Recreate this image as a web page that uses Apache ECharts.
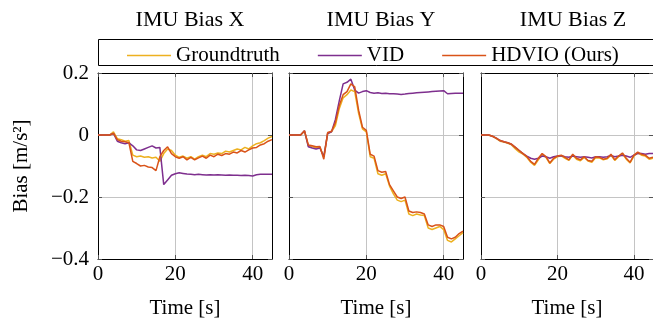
<!DOCTYPE html>
<html>
<head>
<meta charset="utf-8">
<script src="https://cdn.jsdelivr.net/npm/echarts@6/dist/echarts.min.js"></script>
<style>
  html, body { margin: 0; padding: 0; background: #fff; }
  #chart { width: 653px; height: 324px; }
</style>
</head>
<body>
<div id="chart"></div>
<script>
// time stamps [s]
const time = [0, 1, 2, 3, 4, 5, 6, 7, 8, 9, 10, 11, 12, 13, 14, 15, 16, 17, 18, 19, 20, 21, 22, 23,
  24, 25, 26, 27, 28, 29, 30, 31, 32, 33, 34, 35, 36, 37, 38, 39, 40, 41, 42, 43, 44, 45];

const titles = ['IMU Bias X', 'IMU Bias Y', 'IMU Bias Z'];
const seriesNames = ['Groundtruth', 'VID', 'HDVIO (Ours)'];

// bias X
const gtX = [0, 0, 0, 0, 0.01, -0.012, -0.015, -0.02, -0.018, -0.065,
  -0.07, -0.068, -0.072, -0.07, -0.074, -0.072, -0.085, -0.06, -0.045, -0.05,
  -0.065, -0.072, -0.068, -0.075, -0.07, -0.078, -0.07, -0.065, -0.07, -0.06,
  -0.062, -0.058, -0.06, -0.052, -0.055, -0.05, -0.045, -0.048, -0.04, -0.045,
  -0.035, -0.028, -0.025, -0.018, -0.01, -0.005];
const vidX = [0, 0, 0, 0, 0.005, -0.02, -0.025, -0.028, -0.025, -0.035,
  -0.048, -0.05, -0.045, -0.04, -0.035, -0.042, -0.04, -0.16, -0.145, -0.13,
  -0.125, -0.122, -0.124, -0.126, -0.127, -0.128, -0.127, -0.128, -0.129, -0.128,
  -0.129, -0.128, -0.129, -0.13, -0.129, -0.13, -0.13, -0.131, -0.13, -0.131,
  -0.132, -0.128, -0.127, -0.127, -0.127, -0.127];
const hdvioX = [0, 0, 0, 0, 0.005, -0.015, -0.02, -0.022, -0.025, -0.085,
  -0.092, -0.1, -0.098, -0.103, -0.105, -0.115, -0.07, -0.05, -0.038, -0.06,
  -0.07, -0.075, -0.07, -0.08, -0.072, -0.08, -0.074, -0.068, -0.075, -0.065,
  -0.07, -0.062, -0.066, -0.06, -0.062, -0.055, -0.058, -0.05, -0.055, -0.048,
  -0.042, -0.04, -0.032, -0.028, -0.02, -0.015];

// bias Y
const gtY = [0, 0, 0, 0, 0.012, -0.035, -0.038, -0.04, -0.04, -0.07,
  0.005, 0.01, 0.03, 0.085, 0.12, 0.13, 0.145, 0.14, 0.07, 0.02,
  0.01, -0.07, -0.075, -0.125, -0.13, -0.125, -0.165, -0.19, -0.21, -0.215,
  -0.21, -0.255, -0.26, -0.255, -0.258, -0.26, -0.3, -0.305, -0.3, -0.295,
  -0.305, -0.34, -0.345, -0.335, -0.325, -0.315];
const vidY = [0, 0, 0, 0, 0.014, -0.038, -0.042, -0.045, -0.042, -0.07,
  0.005, 0.01, 0.05, 0.11, 0.165, 0.17, 0.18, 0.145, 0.135, 0.14,
  0.143, 0.137, 0.135, 0.136, 0.134, 0.135, 0.133, 0.133, 0.132, 0.131,
  0.132, 0.134, 0.135, 0.136, 0.137, 0.138, 0.139, 0.14, 0.141, 0.142,
  0.143, 0.133, 0.134, 0.135, 0.135, 0.135];
const hdvioY = [0, 0, 0, 0, 0.014, -0.032, -0.035, -0.038, -0.037, -0.078,
  0.008, 0.012, 0.04, 0.095, 0.13, 0.14, 0.165, 0.155, 0.08, 0.025,
  0.015, -0.062, -0.068, -0.115, -0.12, -0.118, -0.16, -0.18, -0.2, -0.205,
  -0.2, -0.245, -0.25, -0.248, -0.25, -0.255, -0.29, -0.295, -0.29, -0.29,
  -0.295, -0.33, -0.335, -0.33, -0.318, -0.31];

// bias Z
const gtZ = [0, 0, 0, -0.004, -0.012, -0.02, -0.023, -0.027, -0.032, -0.045,
  -0.055, -0.062, -0.072, -0.088, -0.098, -0.08, -0.062, -0.072, -0.092, -0.078,
  -0.07, -0.067, -0.075, -0.082, -0.065, -0.078, -0.083, -0.072, -0.084, -0.088,
  -0.073, -0.074, -0.08, -0.077, -0.065, -0.082, -0.07, -0.06, -0.078, -0.09,
  -0.068, -0.058, -0.065, -0.068, -0.078, -0.075];
const vidZ = [0, 0, 0, -0.004, -0.01, -0.018, -0.022, -0.025, -0.03, -0.04,
  -0.05, -0.06, -0.068, -0.075, -0.078, -0.075, -0.068, -0.07, -0.075, -0.07,
  -0.068, -0.067, -0.07, -0.072, -0.068, -0.07, -0.072, -0.07, -0.072, -0.074,
  -0.07, -0.07, -0.072, -0.07, -0.066, -0.07, -0.068, -0.065, -0.068, -0.072,
  -0.065, -0.06, -0.06, -0.062, -0.06, -0.06];
const hdvioZ = [0, 0, 0, -0.004, -0.01, -0.018, -0.022, -0.025, -0.03, -0.04,
  -0.05, -0.06, -0.07, -0.085, -0.095, -0.075, -0.06, -0.07, -0.09, -0.075,
  -0.068, -0.065, -0.072, -0.08, -0.062, -0.075, -0.08, -0.07, -0.082, -0.085,
  -0.07, -0.072, -0.078, -0.075, -0.062, -0.08, -0.068, -0.058, -0.075, -0.088,
  -0.065, -0.055, -0.062, -0.065, -0.075, -0.072];

const panels = [[gtX, vidX, hdvioX], [gtY, vidY, hdvioY], [gtZ, vidZ, hdvioZ]];
const colors = ['#EDB120', '#7E2F8E', '#D95319'];

const FONT = 'Liberation Serif';
const gridLeft = [98, 289, 481];
const gridTop = 73, gridW = 174, gridH = 189;

const fmtY = v => {
  if (Math.abs(v) < 1e-9) return '0';
  return (v < 0 ? '\u2212' : '') + Math.abs(v).toFixed(1);
};

const chart = echarts.init(document.getElementById('chart'), null, { renderer: 'canvas' });

const frameLine = { show: true, onZero: false, lineStyle: { color: '#000', width: 1 } };
const tickIn = { show: true, inside: true, length: 4, lineStyle: { color: '#555' } };
const gridLine = { show: true, lineStyle: { color: '#c4c4c4', width: 1 } };

const grids = [], xAxes = [], yAxes = [], series = [];
panels.forEach((p, i) => {
  grids.push({ left: gridLeft[i], top: gridTop, width: gridW, height: gridH });
  // bottom axis with labels
  xAxes.push({
    type: 'value', gridIndex: i, position: 'bottom', min: 0, max: 45, interval: 20,
    name: 'Time [s]', nameLocation: 'middle', nameGap: 39,
    nameTextStyle: { fontFamily: FONT, fontSize: 21, color: '#000' },
    axisLine: frameLine, axisTick: tickIn,
    axisLabel: { fontFamily: FONT, fontSize: 21, color: '#000', margin: 5, showMaxLabel: false },
    splitLine: gridLine
  });
  // top mirror axis (ticks only)
  xAxes.push({
    type: 'value', gridIndex: i, position: 'top', min: 0, max: 45, interval: 20,
    axisLine: frameLine, axisTick: tickIn,
    axisLabel: { show: false }, splitLine: { show: false }
  });
  yAxes.push({
    type: 'value', gridIndex: i, position: 'left', min: -0.4, max: 0.2, interval: 0.2,
    name: i === 0 ? 'Bias [m/s\u00b2]' : '', nameLocation: 'middle', nameGap: 66, nameRotate: 90,
    nameTextStyle: { fontFamily: FONT, fontSize: 21, color: '#000' },
    axisLine: frameLine, axisTick: tickIn,
    axisLabel: { show: i === 0, fontFamily: FONT, fontSize: 21, color: '#000', margin: 9, formatter: fmtY },
    splitLine: gridLine
  });
  yAxes.push({
    type: 'value', gridIndex: i, position: 'right', min: -0.4, max: 0.2, interval: 0.2,
    axisLine: frameLine, axisTick: tickIn,
    axisLabel: { show: false }, splitLine: { show: false }
  });
  p.forEach((vals, k) => {
    series.push({
      name: seriesNames[k], type: 'line', xAxisIndex: i * 2, yAxisIndex: i * 2,
      data: time.map((t, j) => [t, vals[j]]),
      symbol: 'none', showSymbol: false, color: colors[k],
      lineStyle: { width: 1.5, color: colors[k] },
      clip: true, animation: false, z: 3 + k
    });
  });
});

const option = {
  animation: false,
  backgroundColor: '#fff',
  title: titles.map((t, i) => ({
    text: t, left: gridLeft[i] + gridW / 2, top: 4, textAlign: 'center',
    textStyle: { fontFamily: FONT, fontSize: 22, fontWeight: 'normal', color: '#000' }
  })),
  legend: {
    data: seriesNames, left: 122, top: 40, icon: 'rect',
    itemWidth: 44, itemHeight: 1.5, itemGap: 38,
    textStyle: { fontFamily: FONT, fontSize: 21, color: '#000' }
  },
  graphic: [{
    type: 'rect', z: 100,
    shape: { x: 98.5, y: 39.5, width: 560, height: 26 },
    style: { fill: 'none', stroke: '#000', lineWidth: 1 }
  }],
  grid: grids,
  xAxis: xAxes,
  yAxis: yAxes,
  series: series
};

chart.setOption(option);
</script>
</body>
</html>
